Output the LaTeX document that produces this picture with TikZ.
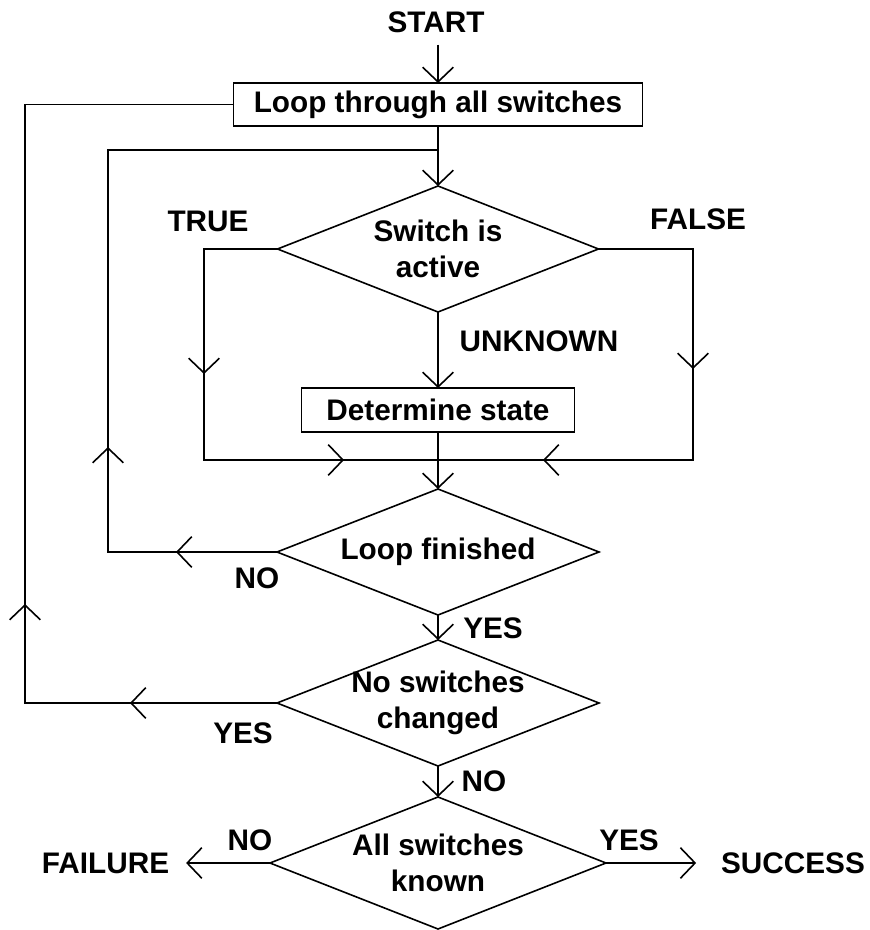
\documentclass[tikz,border=0pt]{standalone}
\usepackage{fontspec}
\setmainfont{Liberation Sans}
\usetikzlibrary{shapes.geometric,arrows.meta,decorations.markings}

\tikzset{
  vtip/.tip={Straight Barb[length=11pt,width=23pt]},
  conn/.style={draw, line width=1.2pt},
  arrowat/.style={postaction={decorate,decoration={markings,
      mark=at position #1 with {\arrow{vtip}}}}},
  txt/.style={inner sep=0pt, align=center,
      font=\bfseries\fontsize{22.3}{27.5}\selectfont},
  proc/.style={txt, draw, line width=1.2pt, outer sep=0pt},
  decision/.style={diamond, draw, line width=1.2pt, inner sep=0pt, outer sep=0pt},
}

\begin{document}
\begin{tikzpicture}[x=0.75pt,y=-0.75pt]
\fill[white] (0,0) rectangle (869,930);
\useasboundingbox (0,0) rectangle (869,930);

% main column
\node[txt, outer ysep=9pt] (start) at (436,22) {START};
\node[proc, minimum width=306.75pt, minimum height=32.25pt] (box1) at (438,104.5)
  {Loop through all switches};
\node[decision, minimum width=240.75pt, minimum height=94.5pt,
      label={[txt]center:Switch is\\active}] (d1) at (438,249) {};
\node[proc, minimum width=204.75pt, minimum height=33pt] (box2) at (438,410)
  {Determine state};
\node[decision, minimum width=241.5pt, minimum height=94.5pt,
      label={[txt]center:Loop finished}] (d2) at (438,552) {};
\node[decision, minimum width=241.5pt, minimum height=94.5pt,
      label={[txt]center:No switches\\changed}] (d3) at (438,703) {};
\node[decision, minimum width=252pt, minimum height=99pt,
      label={[txt]center:All switches\\known}] (d4) at (438,863) {};

% end states
\node[txt, outer xsep=12.75pt] (fail) at (105.5,863) {FAILURE};
\node[txt, outer xsep=18.75pt] (succ) at (793,863) {SUCCESS};

% branch labels
\node[txt] (ltrue) at (208,221) {TRUE};
\node[txt] (lfalse) at (698,219) {FALSE};
\node[txt] (lunk) at (539,341) {UNKNOWN};
\node[txt] (lno1) at (257,578) {NO};
\node[txt] (lyes1) at (493,628) {YES};
\node[txt] (lyes2) at (243,733) {YES};
\node[txt] (lno2) at (484,781) {NO};
\node[txt] (lno3) at (250,840) {NO};
\node[txt] (lyes3) at (629,840) {YES};

% corner and junction points
\coordinate (lt) at (25,104.5);
\coordinate (lj) at (108,150);
\coordinate (jtop) at (438,150);
\coordinate (jmid) at (438,460);
\coordinate (tc) at (204,460);
\coordinate (fc) at (693,460);

% straight flow
\draw[conn,-{vtip}] (start.south -| box1.north) -- (box1.north);
\draw[conn,-{vtip}] (box1.south) -- (d1.north);
\draw[conn,-{vtip}] (d1.south) -- (box2.north);
\draw[conn,-{vtip}] (box2.south) -- (d2.north);
\draw[conn,-{vtip}] (d2.south) -- (d3.north);
\draw[conn,-{vtip}] (d3.south) -- (d4.north);
\draw[conn,-{vtip}] (d4.west) -- (fail.east);
\draw[conn,-{vtip}] (d4.east) -- (succ.west);

% TRUE / FALSE branches
\draw[conn, arrowat=148.9pt, arrowat=318.4pt] (d1.west) -| (tc) -- (jmid);
\draw[conn, arrowat=160.9pt, arrowat=341.6pt] (d1.east) -| (fc) -- (jmid);

% loops back
\draw[conn, arrowat=75.75pt, arrowat=205.5pt] (d2.west) -| (lj) -- (jtop);
\draw[conn, arrowat=110.25pt, arrowat=263.25pt] (d3.west) -| (lt) -- (box1.west);
\end{tikzpicture}
\end{document}
